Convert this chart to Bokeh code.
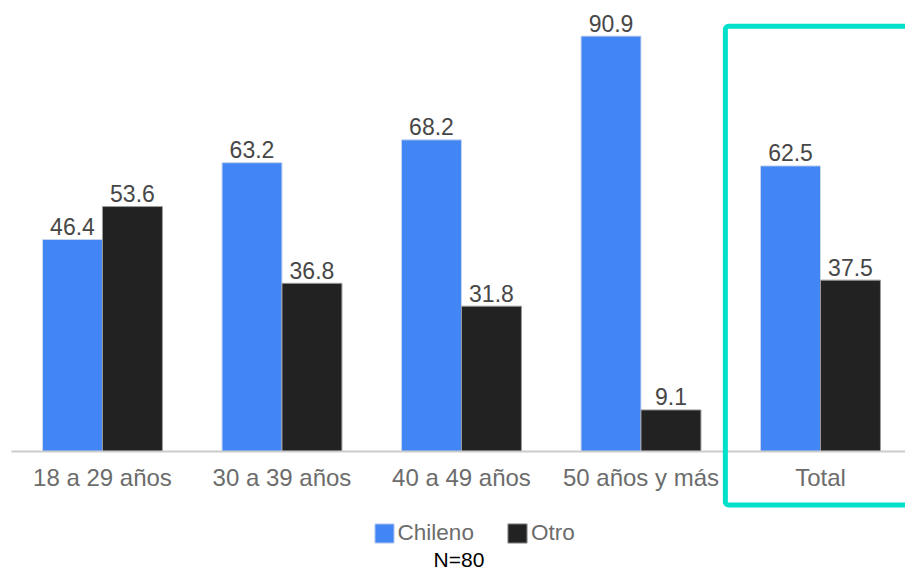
from bokeh.plotting import figure
from bokeh.models import (ColumnDataSource, Range1d, FixedTicker, Legend, LegendItem,
                          Label, BoxAnnotation)
from bokeh.transform import dodge
from bokeh.core.properties import value
from bokeh.embed import file_html
from bokeh.resources import INLINE

categories = ["18 a 29 años", "30 a 39 años", "40 a 49 años", "50 años y más", "Total"]
chileno = [46.4, 63.2, 68.2, 90.9, 62.5]
otro = [53.6, 36.8, 31.8, 9.1, 37.5]
series_names = ["Chileno", "Otro"]
note = "N=80"

BLUE = "#4285F4"
BLACK = "#222222"
TEAL = "#00E0CB"
FONT = "Liberation Sans"

idx = list(range(len(categories)))
src = ColumnDataSource(dict(
    x=idx,
    chileno=chileno,
    otro=otro,
    chileno_txt=[f"{v:.1f}" for v in chileno],
    otro_txt=[f"{v:.1f}" for v in otro],
))

W, H = 905, 571
p = figure(width=W, height=H, output_backend="svg", toolbar_location=None,
           x_range=Range1d(-0.568, 4.4735), y_range=Range1d(-26.26, 98.69),
           y_axis_location=None,
           min_border_left=0, min_border_right=0, min_border_top=0, min_border_bottom=0)
p.outline_line_color = None
p.xgrid.visible = False
p.ygrid.visible = False
p.background_fill_color = "white"
p.border_fill_color = "white"

bw = 0.334
off = 0.167
r1 = p.vbar(x=dodge("x", -off), top="chileno", width=bw, source=src,
            fill_color=BLUE, line_color="#c8d6ee", line_width=1)
r2 = p.vbar(x=dodge("x", off), top="otro", width=bw, source=src,
            fill_color=BLACK, line_color="#9a9a9a", line_width=1)

common = dict(text_font=value(FONT), text_font_size="23px", text_color="#474747",
              text_align="center", text_baseline="alphabetic", y_offset=-13)
p.text(x=dodge("x", -off), y="chileno", text="chileno_txt", source=src, **common)
p.text(x=dodge("x", off), y="otro", text="otro_txt", source=src, **common)

ax = p.xaxis[0]
ax.fixed_location = 0
ax.bounds = (-0.507, 4.4735)
ax.ticker = FixedTicker(ticks=idx)
ax.major_label_overrides = {i: c for i, c in zip(idx, categories)}
ax.major_tick_line_color = None
ax.minor_tick_line_color = None
ax.major_tick_out = 0
ax.major_tick_in = 0
ax.axis_line_color = "#cccccc"
ax.axis_line_width = 2
ax.major_label_text_font = FONT
ax.major_label_text_font_size = "24px"
ax.major_label_text_color = "#6c6c6c"
ax.major_label_standoff = 13

legend = Legend(items=[LegendItem(label=series_names[0], renderers=[r1]),
                       LegendItem(label=series_names[1], renderers=[r2])],
                orientation="horizontal", location=(371.6, 25.4),
                margin=0, padding=0, spacing=31,
                glyph_width=24, glyph_height=24, label_standoff=2,
                label_text_font=FONT, label_text_font_size="22.5px",
                label_text_color="#6c6c6c",
                border_line_color=None, background_fill_alpha=0)
p.add_layout(legend, "center")

p.add_layout(Label(x=458.5, y=12.5, x_units="screen", y_units="screen", text=note,
                   text_font=FONT, text_font_size="21px", text_color="black",
                   text_align="center", text_baseline="alphabetic"))

p.add_layout(BoxAnnotation(left=3.47, right=5.2, top=93.04, bottom=-11.7,
                           fill_alpha=0, line_color=TEAL, line_alpha=1, line_width=5,
                           border_radius=3))

open("out.html", "w").write(file_html(p, INLINE))
